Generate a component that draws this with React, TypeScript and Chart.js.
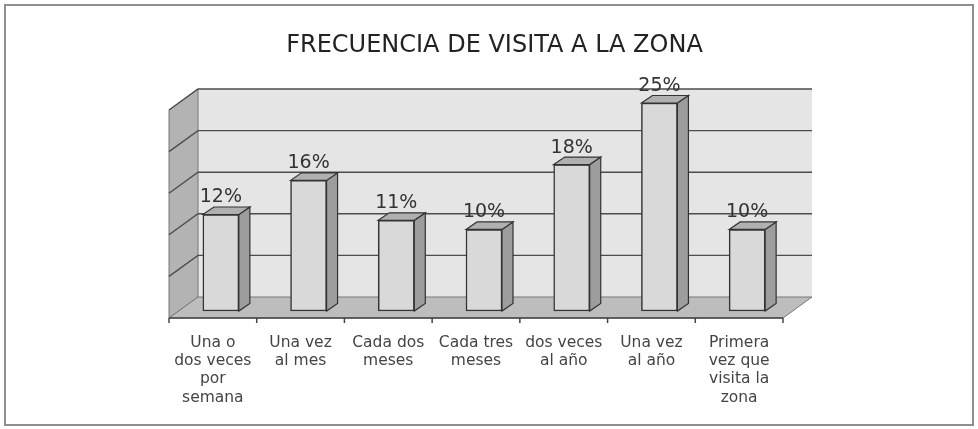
import React, { useEffect, useRef } from 'react';
import { Chart, registerables } from 'chart.js';

Chart.register(...registerables);

const chartTitle = 'FRECUENCIA DE VISITA A LA ZONA';
const categories: string[][] = [
  ['Una o', 'dos veces', 'por', 'semana'],
  ['Una vez', 'al mes'],
  ['Cada dos', 'meses'],
  ['Cada tres', 'meses'],
  ['dos veces', 'al año'],
  ['Una vez', 'al año'],
  ['Primera', 'vez que', 'visita la', 'zona'],
];
const values: number[] = [11.6, 15.7, 10.9, 9.8, 17.6, 25.0, 9.8];
const yTicks: number[] = [0, 5, 10, 15, 20, 25];

// oblique depth of the 3D box
const WALL_DX = 29;
const WALL_DY = -21;
const BAR_DX = 8;
const BAR_DY = -7;
const SIDE_DX = 11;
const SIDE_DY = -7.5;

function poly(ctx: CanvasRenderingContext2D, pts: number[][], fill: string | null, stroke: string | null, lw = 1) {
  ctx.beginPath();
  ctx.moveTo(pts[0][0], pts[0][1]);
  for (let i = 1; i < pts.length; i++) ctx.lineTo(pts[i][0], pts[i][1]);
  ctx.closePath();
  if (fill) {
    ctx.fillStyle = fill;
    ctx.fill();
  }
  if (stroke) {
    ctx.strokeStyle = stroke;
    ctx.lineWidth = lw;
    ctx.stroke();
  }
}

const scenePlugin = {
  id: 'scene3d',
  beforeDraw(chart: any) {
    const { ctx, chartArea: a, scales } = chart;
    const y = scales.y;
    const x = scales.x;
    ctx.save();
    ctx.fillStyle = '#ffffff';
    ctx.fillRect(0, 0, chart.width, chart.height);
    ctx.strokeStyle = '#8e8e8e';
    ctx.lineWidth = 2;
    ctx.strokeRect(5, 5, chart.width - 10, chart.height - 9);

    const top = y.getPixelForValue(yTicks[yTicks.length - 1]);
    const bot = y.getPixelForValue(0);
    const L = a.left;
    const R = a.right;

    // back wall
    poly(ctx, [[L + WALL_DX, top + WALL_DY], [R + WALL_DX, top + WALL_DY], [R + WALL_DX, bot + WALL_DY], [L + WALL_DX, bot + WALL_DY]], '#e5e5e5', null);
    // left wall
    poly(ctx, [[L, bot], [L + WALL_DX, bot + WALL_DY], [L + WALL_DX, top + WALL_DY], [L, top]], '#b3b3b3', '#777777', 1);
    // floor
    poly(ctx, [[L, bot], [R, bot], [R + WALL_DX, bot + WALL_DY], [L + WALL_DX, bot + WALL_DY]], '#bdbdbd', '#777777', 1);

    // gridlines on walls
    ctx.strokeStyle = '#4d4d4d';
    ctx.lineWidth = 1.4;
    for (const v of yTicks) {
      if (v === 0) continue;
      const py = y.getPixelForValue(v);
      ctx.beginPath();
      ctx.moveTo(L, py);
      ctx.lineTo(L + WALL_DX, py + WALL_DY);
      ctx.lineTo(R + WALL_DX, py + WALL_DY);
      ctx.stroke();
    }

    // front axis line and tick marks
    ctx.strokeStyle = '#444444';
    ctx.lineWidth = 1.5;
    ctx.beginPath();
    ctx.moveTo(L, bot);
    ctx.lineTo(R, bot);
    ctx.stroke();
    const step = x.getPixelForValue(1) - x.getPixelForValue(0);
    for (let i = 0; i <= categories.length; i++) {
      const px = x.getPixelForValue(0) - step / 2 + i * step;
      ctx.beginPath();
      ctx.moveTo(px, bot);
      ctx.lineTo(px, bot + 5);
      ctx.stroke();
    }
    ctx.restore();
  },
  beforeDatasetsDraw(chart: any) {
    chart.ctx.save();
    chart.ctx.translate(BAR_DX, BAR_DY);
  },
  afterDatasetsDraw(chart: any) {
    const ctx = chart.ctx;
    const meta = chart.getDatasetMeta(0);
    meta.data.forEach((bar: any) => {
      const p = bar.getProps(['x', 'y', 'base', 'width'], true);
      const l = p.x - p.width / 2;
      const r = p.x + p.width / 2;
      // side face
      poly(ctx, [[r, p.y], [r + SIDE_DX, p.y + SIDE_DY], [r + SIDE_DX, p.base + SIDE_DY], [r, p.base]], '#9d9d9d', '#333333', 1.2);
      // top face
      poly(ctx, [[l, p.y], [l + SIDE_DX, p.y + SIDE_DY], [r + SIDE_DX, p.y + SIDE_DY], [r, p.y]], '#b0b0b0', '#333333', 1.2);
    });
    ctx.restore();

    // value labels
    ctx.save();
    ctx.fillStyle = '#333333';
    ctx.font = '19px "DejaVu Sans", sans-serif';
    ctx.textAlign = 'center';
    ctx.textBaseline = 'alphabetic';
    meta.data.forEach((bar: any, i: number) => {
      const p = bar.getProps(['x', 'y'], true);
      ctx.fillText(Math.round(values[i]) + '%', p.x + BAR_DX, p.y + BAR_DY - 12);
    });
    ctx.restore();
  },
};

export default function App() {
  const ref = useRef<HTMLCanvasElement>(null);
  useEffect(() => {
    if (!ref.current) return;
    const chart = new Chart(ref.current, {
      type: 'bar',
      data: {
        labels: categories,
        datasets: [
          {
            data: values,
            backgroundColor: '#d9d9d9',
            borderColor: '#333333',
            borderWidth: 1.5,
            borderSkipped: false,
            barThickness: 36,
            clip: false,
          } as any,
        ],
      },
      options: {
        responsive: false,
        animation: false,
        events: [],
        layout: { padding: { left: 11, right: 0, top: 0, bottom: 0 } },
        plugins: {
          legend: { display: false },
          tooltip: { enabled: false },
          title: {
            display: true,
            text: chartTitle,
            color: '#222222',
            font: { family: '"DejaVu Sans", sans-serif', size: 24, weight: 'normal', lineHeight: 1.2 },
            padding: { top: 31, bottom: 50.2 },
          },
        },
        scales: {
          x: {
            type: 'category',
            grid: { display: false, drawTicks: false },
            border: { display: false },
            ticks: {
              color: '#444444',
              font: { family: '"DejaVu Sans", sans-serif', size: 15.5, lineHeight: 1.17 },
              padding: 16,
              maxRotation: 0,
              autoSkip: false,
            },
            afterFit: (s: any) => {
              s.height = 111;
            },
          },
          y: {
            type: 'linear',
            min: 0,
            max: 25,
            grid: { display: false, drawTicks: false },
            border: { display: false },
            ticks: { display: false, stepSize: 5 },
            afterFit: (s: any) => {
              s.width = 158;
            },
          },
          yR: {
            type: 'linear',
            position: 'right',
            grid: { display: false, drawTicks: false },
            border: { display: false },
            ticks: { display: false },
            afterFit: (s: any) => {
              s.width = 195;
            },
          },
        },
      } as any,
      plugins: [scenePlugin],
    });
    return () => chart.destroy();
  }, []);
  return (
    <div style={{ position: 'fixed', left: 0, top: 0, width: 978, height: 429, background: '#fff' }}>
      <canvas ref={ref} width={978} height={429} style={{ display: 'block', width: 978, height: 429 }} />
    </div>
  );
}
